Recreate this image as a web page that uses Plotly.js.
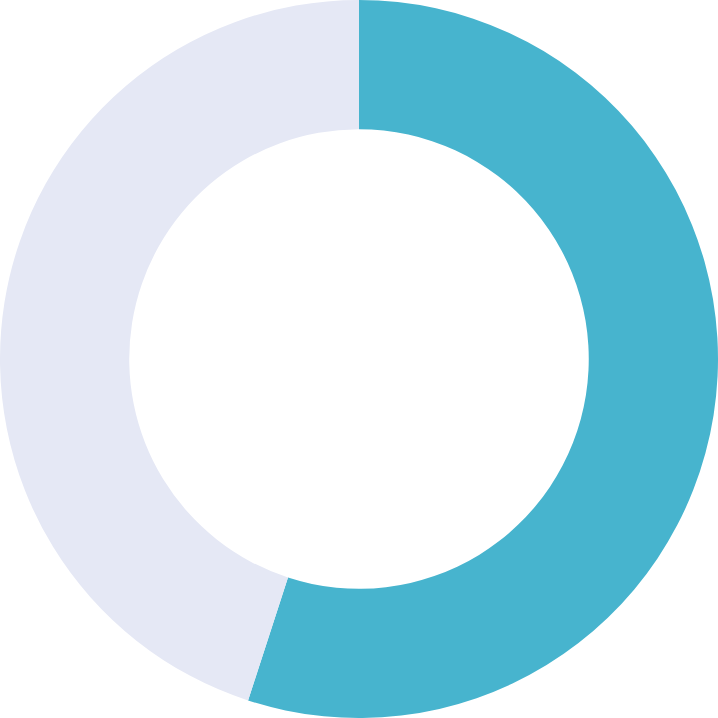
<!DOCTYPE html>
<html>
<head>
<meta charset="utf-8">
<script src="https://cdn.plot.ly/plotly-3.0.1.min.js"></script>
<style>
  html, body { margin: 0; padding: 0; background: #fff; }
  #chart { width: 718px; height: 718px; }
</style>
</head>
<body>
<div id="chart"></div>
<script>
// slice labels and values
var labels = ['Filled', 'Remaining'];
var values = [55, 45];
var colors = ['#47B4CE', '#E5E8F5'];

var trace = {
  type: 'pie',
  labels: labels,
  values: values,
  hole: 0.64,
  sort: false,
  direction: 'clockwise',
  rotation: 0,
  textinfo: 'none',
  hoverinfo: 'label+percent',
  marker: { colors: colors, line: { width: 0 } }
};

var layout = {
  width: 718,
  height: 718,
  margin: { l: 0, r: 0, t: 0, b: 0 },
  showlegend: false,
  paper_bgcolor: '#fff'
};

Plotly.newPlot('chart', [trace], layout, { displayModeBar: false, staticPlot: true });
</script>
</body>
</html>
